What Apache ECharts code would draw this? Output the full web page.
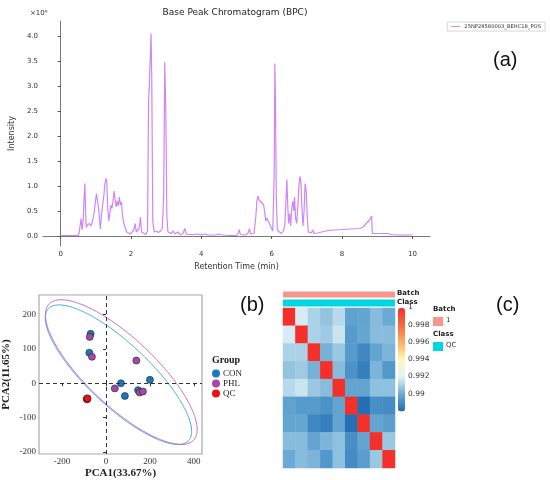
<!DOCTYPE html>
<html>
<head>
<meta charset="utf-8">
<script src="https://cdn.jsdelivr.net/npm/echarts@6/dist/echarts.min.js"></script>
<style>
  html, body { margin: 0; padding: 0; background: #fff; }
  #chart { width: 550px; height: 480px; }
</style>
</head>
<body>
<div id="chart"></div>
<script>
// (a) base peak chromatogram, intensity in units of 1e9
const rtMin = [0.00, 0.50, 0.53, 0.58, 0.61, 0.64, 0.67, 0.69, 0.71, 0.73, 0.76, 0.79, 0.82, 0.86, 0.90, 0.95, 0.99, 1.02, 1.05, 1.08,
  1.11, 1.13, 1.16, 1.19, 1.22, 1.26, 1.29, 1.31, 1.34, 1.37, 1.40, 1.43, 1.46, 1.49, 1.52, 1.55, 1.58, 1.61, 1.64, 1.67,
  1.70, 1.73, 1.76, 1.80, 1.84, 1.88, 1.93, 1.98, 2.03, 2.08, 2.12, 2.15, 2.19, 2.23, 2.27, 2.30, 2.35, 2.42, 2.47, 2.50,
  2.52, 2.55, 2.57, 2.59, 2.62, 2.66, 2.72, 2.78, 2.84, 2.89, 2.93, 2.96, 2.99, 3.02, 3.05, 3.10, 3.14, 3.20, 3.25, 3.33,
  3.40, 3.47, 3.53, 3.57, 3.65, 3.80, 3.90, 4.00, 4.10, 4.20, 4.40, 4.50, 4.60, 4.80, 5.00, 5.05, 5.08, 5.11, 5.25, 5.33,
  5.37, 5.40, 5.50, 5.55, 5.58, 5.61, 5.64, 5.67, 5.70, 5.73, 5.77, 5.80, 5.83, 5.86, 5.90, 5.94, 5.98, 6.03, 6.07, 6.09,
  6.11, 6.13, 6.16, 6.22, 6.28, 6.33, 6.37, 6.40, 6.43, 6.46, 6.48, 6.51, 6.54, 6.57, 6.60, 6.63, 6.65, 6.68, 6.71, 6.74,
  6.77, 6.80, 6.83, 6.86, 6.89, 6.92, 6.95, 6.98, 7.01, 7.04, 7.08, 7.12, 7.17, 7.20, 7.30, 7.60, 8.00, 8.50, 8.60, 8.70,
  8.78, 8.84, 8.86, 8.95, 9.10, 9.30, 9.40, 9.60, 10.00];
const intensity = [0.01, 0.01, 0.08, 0.35, 0.12, 0.30, 0.80, 1.05, 0.50, 0.17, 0.22, 0.18, 0.25, 0.20, 0.28, 0.45, 0.70, 0.85, 0.82, 0.55,
  0.30, 0.14, 0.40, 0.60, 0.75, 1.05, 1.15, 1.10, 0.55, 0.30, 0.45, 0.62, 0.55, 0.70, 0.90, 0.72, 0.58, 0.70, 0.60, 0.78,
  0.62, 0.68, 0.40, 0.25, 0.15, 0.08, 0.05, 0.04, 0.06, 0.12, 0.25, 0.08, 0.05, 0.15, 0.38, 0.08, 0.04, 0.03, 0.10, 2.70,
  3.00, 3.60, 4.05, 3.20, 0.30, 0.08, 0.10, 0.07, 0.10, 0.15, 0.80, 3.48, 2.50, 0.40, 0.08, 0.12, 0.05, 0.10, 0.04, 0.08,
  0.03, 0.04, 0.15, 0.04, 0.03, 0.03, 0.04, 0.02, 0.04, 0.02, 0.02, 0.04, 0.02, 0.01, 0.01, 0.06, 0.13, 0.03, 0.02, 0.06,
  0.15, 0.04, 0.05, 0.40, 0.70, 0.80, 0.72, 0.75, 0.68, 0.72, 0.62, 0.48, 0.30, 0.36, 0.30, 0.28, 0.18, 0.10, 1.20, 3.45,
  2.55, 0.80, 0.12, 0.08, 0.05, 0.10, 0.20, 0.60, 1.13, 0.55, 0.25, 0.45, 0.20, 0.55, 0.70, 0.50, 0.78, 0.35, 0.25, 0.55,
  0.95, 1.19, 1.10, 0.55, 0.20, 0.50, 1.05, 0.90, 0.40, 0.08, 0.05, 0.06, 0.12, 0.05, 0.06, 0.11, 0.13, 0.15, 0.18, 0.26,
  0.32, 0.40, 0.05, 0.05, 0.05, 0.05, 0.03, 0.02, 0.02];
const rtTicks = [0, 2, 4, 6, 8, 10];
const intTicks = [0, 0.5, 1, 1.5, 2, 2.5, 3, 3.5, 4];

// (b) PCA scores
const conPC1 = [-70, -76, 68, 86, 146, 200];
const conPC2 = [144, 89, 0, -37, -20, 10];
const phlPC1 = [-74, -64, 138, 40, 153, 168];
const phlPC2 = [135, 77, 66, -15, -27, -24];
const qcPC1 = [-88, -86, -84];
const qcPC2 = [-45, -47, -44];
const pc1Ticks = [-200, 0, 200, 400];
const pc2Ticks = [-200, -100, 0, 100, 200];
// confidence ellipses: centre, major semi-axis vector, minor semi-axis vector
const conEllipse = [[56.7, 25], [319, -192], [96, 66]];
const phlEllipse = [[69.6, 32.5], [329, -198], [105, 72]];

// (c) QC correlation heatmap
const qcSamples = ['QC1', 'QC2', 'QC3', 'QC4', 'QC5', 'QC6', 'QC7', 'QC8', 'QC9'];
const corrUpper = [
  [1, 0.9918, 0.9911, 0.9907, 0.9913, 0.9897, 0.9898, 0.9905, 0.9900],
  [0, 1, 0.9911, 0.9909, 0.9916, 0.9895, 0.9899, 0.9905, 0.9905],
  [0, 0, 1, 0.9902, 0.9908, 0.9895, 0.9889, 0.9898, 0.9903],
  [0, 0, 0, 1, 0.9905, 0.9892, 0.9886, 0.9903, 0.9894],
  [0, 0, 0, 0, 1, 0.9898, 0.9898, 0.9906, 0.9906],
  [0, 0, 0, 0, 0, 1, 0.9881, 0.9891, 0.9890],
  [0, 0, 0, 0, 0, 0, 1, 0.9898, 0.9896],
  [0, 0, 0, 0, 0, 0, 0, 1, 0.9908],
  [0, 0, 0, 0, 0, 0, 0, 0, 1]
];
const corrTicks = [1, 0.998, 0.996, 0.994, 0.992, 0.99];

const zip = (a, b) => a.map((v, i) => [v, b[i]]);
function ellipsePoints(e) {
  const pts = [];
  for (let d = 0; d <= 360; d += 3) {
    const t = d * Math.PI / 180;
    pts.push([e[0][0] + e[1][0] * Math.cos(t) + e[2][0] * Math.sin(t),
              e[0][1] + e[1][1] * Math.cos(t) + e[2][1] * Math.sin(t)]);
  }
  return pts;
}
const heatData = [];
for (let r = 0; r < 9; r++) {
  for (let c = 0; c < 9; c++) {
    heatData.push([c, r, r <= c ? corrUpper[r][c] : corrUpper[c][r]]);
  }
}

const sans = 'DejaVu Sans';
const serif = 'Liberation Serif';
const cbTop = 308, cbH = 103.5, cbMin = 0.988, cbMax = 1.0;

const myChart = echarts.init(document.getElementById('chart'));
const option = {
  animation: false,
  backgroundColor: '#fff',
  title: {
    text: 'Base Peak Chromatogram (BPC)',
    left: 230, top: 3, textAlign: 'center',
    textStyle: { fontFamily: sans, fontWeight: 'normal', fontSize: 9, color: '#222' }
  },
  legend: [{
    data: [{ name: '25NP28580003_BEHC18_POS', icon: 'rect' }],
    right: 5, top: 22,
    borderColor: '#ccc', borderWidth: 0.8, padding: [2, 4],
    itemWidth: 9, itemHeight: 1, itemGap: 2,
    textStyle: { fontFamily: sans, fontSize: 5.2, color: '#333', padding: [0, 0, 0, -1] }
  }, {
    data: ['CON', 'PHL', 'QC'],
    orient: 'vertical', left: 212, top: 369,
    itemWidth: 8, itemHeight: 8, itemGap: 1, padding: 0,
    icon: 'circle',
    itemStyle: { borderWidth: 0 },
    textStyle: { fontFamily: serif, fontSize: 9, color: '#222', padding: [0, 0, 0, -2] }
  }],
  grid: [
    { left: 30, top: 21, width: 400, height: 225 },
    { left: 36, top: 295, width: 166, height: 161, show: true, borderColor: '#aaa', borderWidth: 1.2 },
    { left: 283, top: 308, width: 112, height: 160 }
  ],
  xAxis: [{
    gridIndex: 0, type: 'value', min: -0.5, max: 10.5,
    name: 'Retention Time (min)', nameLocation: 'middle', nameGap: 17,
    nameTextStyle: { fontFamily: sans, fontSize: 8, color: '#333' },
    splitLine: { show: false },
    axisLine: { lineStyle: { color: '#555', width: 0.8 } },
    axisTick: { customValues: rtTicks, length: 3, lineStyle: { color: '#555' } },
    axisLabel: { customValues: rtTicks, fontFamily: sans, fontSize: 7, color: '#333', margin: 5 }
  }, {
    gridIndex: 1, type: 'value', min: -305, max: 437,
    name: 'PCA1(33.67%)', nameLocation: 'middle', nameGap: 14,
    nameTextStyle: { fontFamily: serif, fontWeight: 'bold', fontSize: 11, color: '#222' },
    splitLine: { show: false },
    axisLine: { show: false },
    axisTick: { customValues: pc1Ticks, length: 3, lineStyle: { color: '#333' } },
    axisLabel: { customValues: pc1Ticks, fontFamily: serif, fontSize: 9, color: '#333', margin: 3 }
  }, {
    gridIndex: 2, type: 'category', data: qcSamples, show: false
  }],
  yAxis: [{
    gridIndex: 0, type: 'value', min: -0.2, max: 4.3,
    name: 'Intensity', nameLocation: 'middle', nameGap: 19,
    nameTextStyle: { fontFamily: sans, fontSize: 8, color: '#333' },
    splitLine: { show: false },
    axisLine: { show: true, lineStyle: { color: '#555', width: 0.8 } },
    axisTick: { show: true, customValues: intTicks, length: 3, lineStyle: { color: '#555' } },
    axisLabel: { customValues: intTicks, fontFamily: sans, fontSize: 7, color: '#333', margin: 5,
      formatter: v => v.toFixed(1) }
  }, {
    gridIndex: 1, type: 'value', min: -206, max: 257,
    name: 'PCA2(11.65%)', nameLocation: 'middle', nameGap: 27,
    nameTextStyle: { fontFamily: serif, fontWeight: 'bold', fontSize: 11, color: '#222' },
    splitLine: { show: false },
    axisLine: { show: false },
    axisTick: { show: true, customValues: pc2Ticks, length: 3, lineStyle: { color: '#333' } },
    axisLabel: { customValues: pc2Ticks, fontFamily: serif, fontSize: 9, color: '#333', margin: 3 }
  }, {
    gridIndex: 2, type: 'category', data: qcSamples, inverse: true, show: false
  }],
  visualMap: {
    type: 'continuous', seriesIndex: 6, min: cbMin, max: cbMax,
    left: 398, top: cbTop, itemWidth: 7, itemHeight: cbH, padding: 0,
    calculable: false, showLabel: false, text: null,
    inRange: { color: ['#1f6db3', '#6aaad4', '#e2f2f7', '#fff8b8', '#fdb062', '#f46a42', '#f4302a'] }
  },
  series: [{
    name: '25NP28580003_BEHC18_POS', type: 'line', xAxisIndex: 0, yAxisIndex: 0,
    data: zip(rtMin, intensity), showSymbol: false,
    lineStyle: { color: '#cf86f5', width: 1.2 }, itemStyle: { color: '#cf86f5' }
  }, {
    name: 'CON ellipse', type: 'line', xAxisIndex: 1, yAxisIndex: 1,
    data: ellipsePoints(conEllipse), showSymbol: false, smooth: true,
    lineStyle: { color: '#3aa6de', width: 1 }, silent: true
  }, {
    name: 'PHL ellipse', type: 'line', xAxisIndex: 1, yAxisIndex: 1,
    data: ellipsePoints(phlEllipse), showSymbol: false, smooth: true,
    lineStyle: { color: '#c765c9', width: 1 }, silent: true,
    markLine: {
      silent: true, symbol: 'none', label: { show: false },
      lineStyle: { color: '#333', type: [4, 3], width: 1 },
      data: [{ xAxis: 0 }, { yAxis: 0 }]
    }
  }, {
    name: 'CON', type: 'scatter', xAxisIndex: 1, yAxisIndex: 1,
    data: zip(conPC1, conPC2), symbolSize: 7,
    itemStyle: { color: '#1a78bd', borderColor: '#222', borderWidth: 0.6, opacity: 1 }
  }, {
    name: 'PHL', type: 'scatter', xAxisIndex: 1, yAxisIndex: 1,
    data: zip(phlPC1, phlPC2), symbolSize: 7,
    itemStyle: { color: '#a548a8', borderColor: '#222', borderWidth: 0.6, opacity: 1 }
  }, {
    name: 'QC', type: 'scatter', xAxisIndex: 1, yAxisIndex: 1,
    data: zip(qcPC1, qcPC2), symbolSize: 7,
    itemStyle: { color: '#ee1111', borderColor: '#222', borderWidth: 0.6, opacity: 1 }
  }, {
    name: 'QC correlation', type: 'heatmap', xAxisIndex: 2, yAxisIndex: 2,
    data: heatData, itemStyle: { borderWidth: 0 }
  }],
  graphic: [
    { type: 'text', left: 30, top: 10, style: { text: '×10⁹', fontFamily: sans, fontSize: 7, fill: '#333' } },
    { type: 'text', left: 493, top: 50, style: { text: '(a)', fontFamily: 'Liberation Sans', fontSize: 20, fill: '#111' } },
    { type: 'text', left: 240, top: 295, style: { text: '(b)', fontFamily: 'Liberation Sans', fontSize: 20, fill: '#111' } },
    { type: 'text', left: 496, top: 295, style: { text: '(c)', fontFamily: 'Liberation Sans', fontSize: 20, fill: '#111' } },
    { type: 'text', left: 212, top: 355, style: { text: 'Group', fontFamily: serif, fontWeight: 'bold', fontSize: 10, fill: '#222' } },
    // annotation bars above the heatmap
    { type: 'rect', shape: { x: 283, y: 291.5, width: 112, height: 6 }, style: { fill: '#f7968b' } },
    { type: 'rect', shape: { x: 283, y: 299.5, width: 112, height: 7 }, style: { fill: '#00d6df' } },
    { type: 'text', left: 397, top: 289.5, style: { text: 'Batch', fontFamily: sans, fontWeight: 'bold', fontSize: 7, fill: '#222' } },
    { type: 'text', left: 397, top: 298.5, style: { text: 'Class', fontFamily: sans, fontWeight: 'bold', fontSize: 7, fill: '#222' } },
    // annotation legend
    { type: 'text', left: 433, top: 306, style: { text: 'Batch', fontFamily: sans, fontWeight: 'bold', fontSize: 7, fill: '#222' } },
    { type: 'rect', shape: { x: 433, y: 317, width: 10, height: 9 }, style: { fill: '#f7968b' } },
    { type: 'text', left: 446, top: 317, style: { text: '1', fontFamily: sans, fontSize: 7, fill: '#333' } },
    { type: 'text', left: 433, top: 331, style: { text: 'Class', fontFamily: sans, fontWeight: 'bold', fontSize: 7, fill: '#222' } },
    { type: 'rect', shape: { x: 433, y: 342, width: 10, height: 9 }, style: { fill: '#00d6df' } },
    { type: 'text', left: 446, top: 342, style: { text: 'QC', fontFamily: sans, fontSize: 7, fill: '#333' } }
  ].concat(corrTicks.map(v => ({
    type: 'text', left: 408,
    top: cbTop + (cbMax - v) / (cbMax - cbMin) * cbH - 4.5,
    style: { text: String(v), fontFamily: sans, fontSize: 7.5, fill: '#333' }
  })))
};

myChart.setOption(option);

window.addEventListener('resize', () => {
  myChart.resize();
});
</script>
</body>
</html>
